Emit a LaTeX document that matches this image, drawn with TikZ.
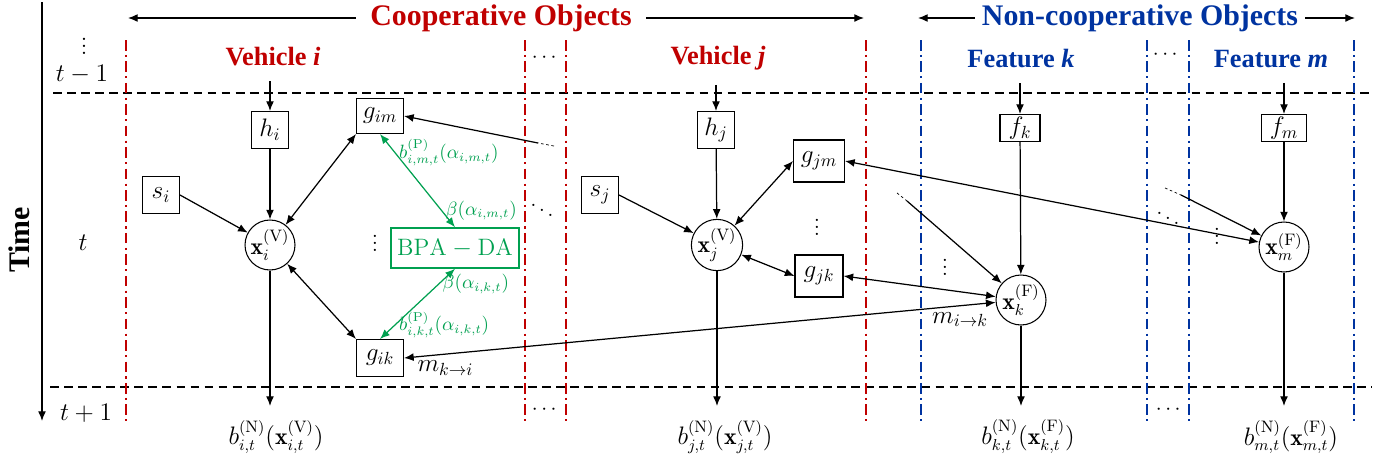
\documentclass[tikz,border=0pt]{standalone}
\usepackage{amsmath}
\usepackage{fontspec}
\newfontfamily\titlefont{Liberation Serif}
\usetikzlibrary{arrows,arrows.meta}
\usetikzlibrary{positioning}
\definecolor{coopred}{RGB}{192,0,0}
\definecolor{ncblue}{RGB}{0,51,160}
\definecolor{dagreen}{RGB}{0,160,80}
\newcommand{\mVar}[2]{\mathbf{x}_{#1}^{(\mathrm{#2})}}
\newcommand{\mBel}[2]{b_{#1,t}^{(\mathrm{N})}(\mathbf{x}_{#1,t}^{(\mathrm{#2})})}
\newcommand{\mPrior}[1]{b_{i,#1,t}^{(\mathrm{P})}(\alpha_{i,#1,t})}
\newcommand{\mBeta}[1]{\beta(\alpha_{i,#1,t})}
\newcommand{\sepline}[2]{\draw[#1] (#2,40) -- (#2,422)}
\tikzset{
  conn/.style={line width=0.7pt},
  da/.style={line width=0.7pt,draw=dagreen},
  fade/.style={line width=0.4pt,dash pattern=on 1.5pt off 1.5pt},
  slice/.style={line width=0.85pt,dash pattern=on 5pt off 3pt},
  coopsep/.style={draw=coopred,line width=1.3pt,dash pattern=on 6pt off 2.5pt on 1.2pt off 2.5pt},
  ncsep/.style={draw=ncblue,line width=1.3pt,dash pattern=on 6pt off 2.5pt on 1.2pt off 2.5pt},
  cooptitle/.style={text=coopred,inner xsep=8pt,font=\titlefont\bfseries\fontsize{17}{19}\selectfont},
  nctitle/.style={text=ncblue,inner xsep=4pt,font=\titlefont\bfseries\fontsize{17}{19}\selectfont},
  vehtitle/.style={text=coopred,font=\titlefont\bfseries\fontsize{15}{17}\selectfont},
  feattitle/.style={text=ncblue,font=\titlefont\bfseries\fontsize{15}{17}\selectfont},
  timelbl/.style={rotate=90,font=\titlefont\bfseries\fontsize{17}{19}\selectfont},
  stepl/.style={font=\fontsize{13.5}{15}\selectfont},
  fac/.style={draw,line width=0.6pt,minimum width=0.74cm,minimum height=0.74cm,inner sep=2pt,font=\fontsize{14}{16}\selectfont},
  gfac/.style={fac,minimum width=0.94cm,minimum height=0.7cm},
  ffac/.style={fac,minimum width=0.8cm,minimum height=0.54cm,inner sep=1pt},
  var/.style={draw,circle,line width=0.6pt,minimum size=1cm,inner sep=0pt,font=\fontsize{13.5}{15}\selectfont},
  bpabox/.style={draw=dagreen,text=dagreen,line width=0.9pt,minimum width=2.5cm,minimum height=0.8cm,font=\fontsize{13.5}{16}\selectfont},
  dalbl/.style={text=dagreen,inner sep=2pt,font=\fontsize{10.5}{12}\selectfont},
  mlbl/.style={font=\fontsize{14}{16}\selectfont},
  bel/.style={font=\fontsize{13.5}{15}\selectfont},
  dots/.style={font=\fontsize{13}{15}\selectfont},
}
\begin{document}
\begin{tikzpicture}[x=0.02cm,y=-0.02cm,>={Latex[length=5.5pt,width=4.5pt]}]
  \useasboundingbox (0,0) rectangle (1390,464);
  % time axis
  \node[timelbl] (time) at (19,240) {Time};
  \coordinate (ttop) at (42,2);
  \coordinate (tbot) at (42,421);
  \draw[->,conn] (ttop) -- (tbot);
  \node[stepl] (tdots) at (84,41) {$\vdots$};
  \node[stepl] (tprev) at (82,74) {$t-1$};
  \node[stepl] (tnow) at (83,243) {$t$};
  \node[stepl] (tnext) at (86,413) {$t+1$};
  \draw[slice] (53,93) -- (1372,93);
  \draw[slice] (50,387) -- (1372,387);
  % column separators
  \sepline{coopsep}{126};
  \sepline{coopsep}{525};
  \sepline{coopsep}{566};
  \sepline{coopsep}{866};
  \sepline{ncsep}{921};
  \sepline{ncsep}{1147};
  \sepline{ncsep}{1189};
  \sepline{ncsep}{1354};
  \node[dots] (cdotst) at (546,58) {$\cdots$};
  \node[dots] (cdotsb) at (546,410) {$\cdots$};
  \node[dots] (fdotst) at (1167,55) {$\cdots$};
  \node[dots] (fdotsb) at (1170,410) {$\cdots$};
  % group titles
  \node[cooptitle] (coop) at (501,18) {Cooperative Objects};
  \coordinate (coopl) at (128,18);
  \coordinate (coopr) at (864,18);
  \draw[->,conn] (coop.west) -- (coopl);
  \draw[->,conn] (coop.east) -- (coopr);
  \node[nctitle] (ncoop) at (1140,18) {Non-cooperative Objects};
  \coordinate (ncl) at (918,18);
  \coordinate (ncr) at (1355,18);
  \draw[->,conn] (ncoop.west) -- (ncl);
  \draw[->,conn] (ncoop.east) -- (ncr);
  % vehicle i
  \node[vehtitle] (vehi) at (273,57) {Vehicle \textit{i}};
  \node[fac] (hi) at (270,130) {$h_i$};
  \node[fac] (si) at (161,195) {$s_i$};
  \node[var] (xi) at (270,245) {$\mVar{i}{V}$};
  \node[gfac] (gim) at (380,116) {$g_{im}$};
  \node[gfac,minimum height=0.74cm] (gik) at (380,358) {$g_{ik}$};
  \node[bpabox] (bpa) at (455,248) {$\mathrm{BPA}-\mathrm{DA}$};
  \node[dots] (gidots) at (375,238) {$\vdots$};
  \coordinate (bi) at (270,406);
  \node[bel] (beli) at (276,437) {$\mBel{i}{V}$};
  \draw[->,conn] ([yshift=-5pt]hi.north |- vehi.south) -- (hi);
  \draw[->,conn] (hi) -- (xi);
  \draw[->,conn] (si.east) -- (xi);
  \draw[<->,conn] (xi) -- (gim.south west);
  \draw[<->,conn] (xi) -- (gik.north west);
  \draw[->,conn] (xi) -- (bi);
  \draw[<->,da] (gim.south) -- node[pos=0.2,right,dalbl]{$\mPrior{m}$} node[pos=0.82,right,dalbl]{$\mBeta{m}$} (bpa.north);
  \draw[<->,da] (bpa.south) -- node[pos=0.22,right,dalbl]{$\mBeta{k}$} node[pos=0.8,right,dalbl]{$\mPrior{k}$} (gik.north);
  % vehicle j
  \node[vehtitle] (vehj) at (718,58) {Vehicle \textit{j}};
  \node[fac] (hj) at (716,130) {$h_j$};
  \node[fac] (sj) at (600,195) {$s_j$};
  \node[var] (xj) at (717,245) {$\mVar{j}{V}$};
  \node[gfac,minimum width=1.02cm,minimum height=0.84cm] (gjm) at (819,161) {$g_{jm}$};
  \node[gfac,minimum width=0.96cm,minimum height=0.84cm] (gjk) at (819,276) {$g_{jk}$};
  \node[dots] (gjdots) at (817,222) {$\vdots$};
  \coordinate (bj) at (717,406);
  \node[bel] (belj) at (725,437) {$\mBel{j}{V}$};
  \draw[->,conn] ([yshift=-5pt]hj.north |- vehj.south) -- (hj);
  \draw[->,conn] (hj) -- (xj);
  \draw[->,conn] (sj.east) -- (xj);
  \draw[<->,conn] (xj) -- (gjm.west);
  \draw[<->,conn] (xj) -- (gjk.west);
  \draw[->,conn] (xj) -- (bj);
  % feature k
  \node[feattitle] (featk) at (1021,59) {Feature \textit{k}};
  \node[ffac] (fk) at (1020,128) {$f_k$};
  \node[var] (xk) at (1021,300) {$\mVar{k}{F}$};
  \node[dots] (xkdots) at (945,262) {$\vdots$};
  \coordinate (bk) at (1021,406);
  \node[bel] (belk) at (1028,437) {$\mBel{k}{F}$};
  \draw[->,conn] ([yshift=-5pt]fk.north |- featk.south) -- (fk);
  \draw[->,conn] (fk) -- (xk);
  \draw[->,conn] (xk) -- (bk);
  % feature m
  \node[feattitle] (featm) at (1271,59) {Feature \textit{m}};
  \node[ffac,minimum width=0.9cm] (fm) at (1284,128) {$f_m$};
  \node[var] (xm) at (1284,247) {$\mVar{m}{F}$};
  \node[dots] (xmdots) at (1217,231) {$\vdots$};
  \coordinate (bm) at (1284,406);
  \node[bel] (belm) at (1291,437) {$\mBel{m}{F}$};
  \draw[->,conn] ([yshift=-5pt]fm.north |- featm.south) -- (fm);
  \draw[->,conn] (fm) -- (xm);
  \draw[->,conn] (xm) -- (bm);
  % hidden columns
  \node[dots] (cddots) at (542,205) {$\ddots$};
  \node[dots] (fddots) at (1168,213) {$\ddots$};
  % messages between vehicles and features
  \draw[<->,conn] (gik.east) -- node[pos=0.07,below,mlbl]{$m_{k\rightarrow i}$} node[pos=0.94,below,mlbl]{$m_{i\rightarrow k}$} (xk);
  \draw[<->,conn] (gjk.east) -- (xk);
  \draw[<->,conn] (gjm.east) -- (xm);
  \coordinate (gimin) at (554,146);
  \coordinate (gimin2) at (538,143);
  \draw[fade] (gimin) -- (gimin2);
  \draw[->,conn] (gimin2) -- (gim.east);
  \coordinate (xkin) at (897,193);
  \coordinate (xkin2) at (907,201);
  \draw[fade] (xkin) -- (xkin2);
  \draw[->,conn] (xkin2) -- (xk);
  \coordinate (xmin) at (1165,188);
  \coordinate (xmin2) at (1181,195);
  \draw[fade] (xmin) -- (xmin2);
  \draw[->,conn] (xmin2) -- (xm);
\end{tikzpicture}
\end{document}
